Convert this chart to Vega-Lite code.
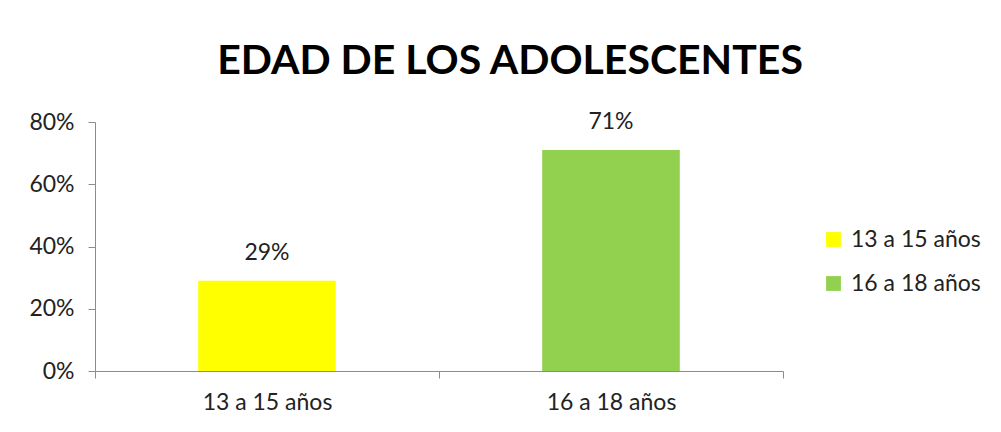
{
  "$schema": "https://vega.github.io/schema/vega-lite/v6.json",
  "width": 688,
  "height": 249,
  "autosize": {"type": "none"},
  "padding": {"left": 95, "top": 122, "right": 218, "bottom": 61},
  "background": "white",
  "title": {
    "text": "EDAD DE LOS ADOLESCENTES",
    "font": "Lato",
    "fontSize": 41,
    "fontWeight": "bold",
    "color": "#000000",
    "anchor": "middle",
    "dx": 71,
    "offset": 28
  },
  "config": {
    "view": {"stroke": null},
    "font": "Lato"
  },
  "data": {
    "values": [
      {"edad": "13 a 15 años", "porcentaje": 0.29},
      {"edad": "16 a 18 años", "porcentaje": 0.71}
    ]
  },
  "encoding": {
    "x": {
      "field": "edad",
      "type": "nominal",
      "sort": null,
      "scale": {"paddingInner": 0, "paddingOuter": 0},
      "axis": {
        "title": null,
        "labelAngle": 0,
        "labelFont": "Lato",
        "labelFontSize": 23,
        "labelColor": "#222222",
        "labelPadding": 13,
        "tickBand": "extent",
        "tickSize": 7,
        "tickColor": "#8c8c8c",
        "domainColor": "#8c8c8c"
      }
    },
    "y": {
      "field": "porcentaje",
      "type": "quantitative",
      "scale": {"domain": [0, 0.8]},
      "axis": {
        "title": null,
        "format": ".0%",
        "values": [0, 0.2, 0.4, 0.6, 0.8],
        "grid": false,
        "labelFont": "Lato",
        "labelFontSize": 23,
        "labelColor": "#222222",
        "labelPadding": 14,
        "tickSize": 7,
        "tickColor": "#8c8c8c",
        "domainColor": "#8c8c8c"
      }
    }
  },
  "layer": [
    {
      "mark": {"type": "bar", "width": {"band": 0.4}},
      "encoding": {
        "color": {
          "field": "edad",
          "type": "nominal",
          "sort": null,
          "scale": {"range": ["#ffff00", "#92d050"]},
          "legend": {
            "title": null,
            "orient": "none",
            "legendX": 727,
            "legendY": 106,
            "symbolType": "square",
            "symbolSize": 220,
            "symbolStrokeWidth": 0,
            "labelFont": "Lato",
            "labelFontSize": 23,
            "labelColor": "#222222",
            "rowPadding": 20,
            "labelOffset": 6
          }
        }
      }
    },
    {
      "mark": {"type": "text", "dy": -28, "font": "Lato", "fontSize": 23, "color": "#222222"},
      "encoding": {
        "text": {"field": "porcentaje", "type": "quantitative", "format": ".0%"}
      }
    }
  ]
}
